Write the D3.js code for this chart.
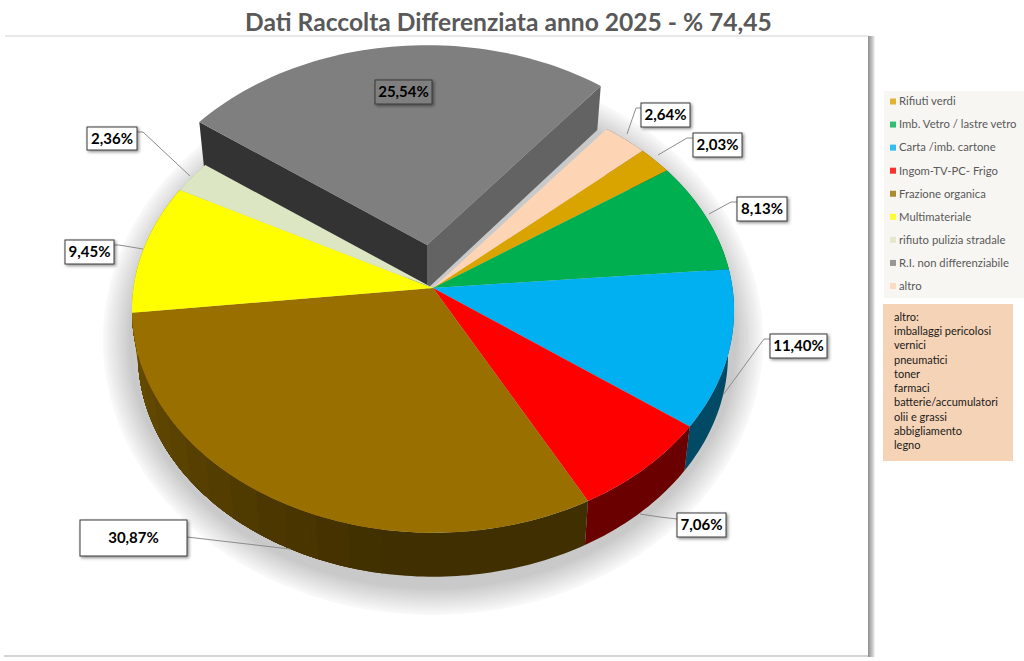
<!DOCTYPE html>
<html>
<head>
<meta charset="utf-8">
<title>Dati Raccolta Differenziata</title>
<script src="https://cdn.jsdelivr.net/npm/d3@7"></script>
<style>
  html, body { margin: 0; background: #fff; }
  text { font-family: Lato, "Open Sans", sans-serif; }
</style>
</head>
<body>
<svg id="chart" width="1024" height="661"></svg>
<script>
const categories = ['Rifiuti verdi', 'Imb. Vetro / lastre vetro', 'Carta /imb.  cartone', 'Ingom-TV-PC- Frigo',
  'Frazione organica', 'Multimateriale', 'rifiuto pulizia stradale', 'R.I. non differenziabile', 'altro'];
const values = [2.03, 8.13, 11.40, 7.06, 30.87, 9.45, 2.36, 25.54, 2.64];
const colors = ['#d9a400', '#00b050', '#00b0f0', '#ff0000', '#997000', '#ffff00', '#dce6c3', '#7f7f7f', '#fdd5b5'];
const altroItems = ['altro:', 'imballaggi pericolosi', 'vernici', 'pneumatici', 'toner', 'farmaci',
  'batterie/accumulatori', 'olii e grassi', 'abbigliamento', 'legno'];
const titleText = 'Dati Raccolta Differenziata anno 2025 - % 74,45';

const svg = d3.select('#chart');
const defs = svg.append('defs');

// frame shadow, title
defs.append('linearGradient').attr('id', 'frameEdge').selectAll('stop')
  .data([['0%', '#8f8f8f'], ['60%', '#c4c4c4'], ['100%', '#f6f6f6']]).enter().append('stop')
  .attr('offset', d => d[0]).attr('stop-color', d => d[1]);
svg.append('rect').attr('x', 868).attr('y', 36).attr('width', 7).attr('height', 621).attr('fill', 'url(#frameEdge)');
svg.append('rect').attr('x', 5).attr('y', 35).attr('width', 863).attr('height', 2).attr('fill', '#e8e8e8');
svg.append('rect').attr('x', 4).attr('y', 655).attr('width', 864).attr('height', 2).attr('fill', '#d4d4d4');
svg.append('text').attr('x', 508.5).attr('y', 31).attr('text-anchor', 'middle')
  .attr('font-size', 24.6).attr('font-weight', 700).attr('fill', '#595959').text(titleText);

// pie seen in perspective: the centre sits above the middle of the ellipse
const apex = { x: 433, y: 288 };
const R = { x: 299.5, y: 220 };
const persp = 0.101;
const depth = 44;
const bottomShrink = 0.98;
const grayOffset = { x: -6, y: -43 };
const startDeg = 48.3;

function project(a) {
  const u = Math.sin(a), v = -Math.cos(a), w = 1 - persp * v;
  return [R.x * u / w, R.y * v / w];
}
const toTop = a => { const p = project(a); return [apex.x + p[0], apex.y + p[1]]; };
const toBottom = a => { const p = project(a); return [apex.x + p[0] * bottomShrink, apex.y + p[1] + depth]; };

const pie = d3.pie().sort(null).value(d => d)
  .startAngle(startDeg * Math.PI / 180)
  .endAngle(startDeg * Math.PI / 180 + 2 * Math.PI);
const arcs = pie(values);
const line = d3.line();

function samples(a0, a1, n) {
  return d3.range(n + 1).map(i => a0 + (a1 - a0) * i / n);
}

// soft shadow under the pie, stepped rings from the outside in
const ring = samples(0, 2 * Math.PI, 120);
const ringCount = 12;
const ringColor = d3.scaleLinear().domain([0, 1]).range(['#f8f8f8', '#c9c9c9']);
const shadowG = svg.append('g').attr('transform', 'translate(433,340)');
d3.range(ringCount).forEach(i => {
  const t = i / (ringCount - 1);
  const rx = 330 - 26 * t, ry = 275 - 26 * t;
  shadowG.append('path')
    .attr('d', line(ring.map(a => [rx * Math.sin(a), ry * Math.cos(a)])) + 'Z')
    .attr('fill', ringColor(t));
});

// side wall shading changes with the direction it faces
const wallShade = d3.scaleLinear().domain([190, 275]).range([0.42, 0.74]).clamp(true);
function wallColor(base, a) {
  const deg = ((a * 180 / Math.PI) % 360 + 360) % 360;
  const c = d3.rgb(base);
  const k = wallShade(Math.round(deg / 6) * 6);
  return d3.rgb(c.r * k, c.g * k, c.b * k).formatHex();
}

const grayIndex = categories.indexOf('R.I. non differenziabile');
const grayArc = arcs[grayIndex];

// exploded slice goes behind everything else
const grayG = svg.append('g').attr('transform', `translate(${grayOffset.x},${grayOffset.y})`);
const apexTop = [apex.x, apex.y];
const apexBottom = [apex.x, apex.y + depth];
grayG.append('path')
  .attr('d', line([apexTop, toTop(grayArc.startAngle), toBottom(grayArc.startAngle), apexBottom]) + 'Z')
  .attr('fill', '#333333');
grayG.append('path')
  .attr('d', line([apexTop, toTop(grayArc.endAngle), toBottom(grayArc.endAngle), apexBottom]) + 'Z')
  .attr('fill', '#636363');
grayG.append('path')
  .attr('d', line([apexTop].concat(samples(grayArc.startAngle, grayArc.endAngle, 60).map(toTop))) + 'Z')
  .attr('fill', colors[grayIndex]);

// outer walls: each slice in one polygon per shade, painted back to front so the seams stay closed
const walls = svg.append('g');
arcs.forEach((d, i) => {
  if (i === grayIndex) return;
  const n = Math.max(2, Math.ceil((d.endAngle - d.startAngle) / (1 * Math.PI / 180)));
  const groups = d3.groups(d3.pairs(samples(d.startAngle, d.endAngle, n)), p => wallColor(colors[i], (p[0] + p[1]) / 2));
  const lastAngle = d.endAngle;
  groups.forEach(([col, segs]) => {
    const first = segs[0][0];
    const pts = samples(first, lastAngle, Math.max(2, Math.ceil((lastAngle - first) / (1 * Math.PI / 180))));
    walls.append('path')
      .attr('d', line(pts.map(toTop).concat(pts.slice().reverse().map(toBottom))) + 'Z')
      .attr('fill', col);
  });
});

// top faces
svg.append('g').selectAll('path')
  .data(arcs.filter((d, i) => i !== grayIndex))
  .enter().append('path')
  .attr('d', d => line([apexTop].concat(samples(d.startAngle, d.endAngle, 80).map(toTop))) + 'Z')
  .attr('fill', d => colors[d.index]);

// data labels and leaders, same order as the values
const labelLayout = [
  { box: [693, 133, 49, 24], leader: [[693, 138], [687, 138], [658, 155]] },
  { box: [737, 197, 50, 24], leader: [[737, 202], [731, 202], [709, 214]] },
  { box: [770, 334, 57, 24], leader: [[770, 339], [764, 339], [723, 395]] },
  { box: [677, 513, 49, 24], leader: [[677, 519], [660, 517], [640, 514]] },
  { box: [80, 520, 107, 36], leader: [[187, 537], [290, 549]] },
  { box: [65, 240, 49, 24], leader: [[114, 245], [119, 245], [143, 249]] },
  { box: [87, 127, 50, 23], leader: [[137, 132], [143, 132], [190, 176]] },
  { box: [375, 80, 57, 24], leader: null, fill: '#7f7f7f' },
  { box: [641, 103, 49, 24], leader: [[641, 108], [636, 108], [627, 134]] }
];
const pct = d3.format('.2f');
const pctLabel = v => pct(v).replace('.', ',') + '%';

defs.append('filter').attr('id', 'boxShadow').attr('x', '-20%').attr('y', '-30%').attr('width', '150%').attr('height', '170%')
  .append('feDropShadow').attr('dx', 1.5).attr('dy', 1.5).attr('stdDeviation', 1.5)
  .attr('flood-color', '#000').attr('flood-opacity', 0.45);

const labels = svg.append('g');
labelLayout.forEach(l => {
  if (l.leader) {
    labels.append('path').attr('d', line(l.leader)).attr('fill', 'none')
      .attr('stroke', '#8c8c8c').attr('stroke-width', 1);
  }
});
labelLayout.forEach((l, i) => {
  const [x, y, w, h] = l.box;
  labels.append('rect').attr('x', x).attr('y', y).attr('width', w).attr('height', h)
    .attr('fill', l.fill || '#fff').attr('stroke', '#3a3a3a').attr('stroke-width', 1)
    .attr('filter', 'url(#boxShadow)');
  labels.append('text').attr('x', x + w / 2).attr('y', y + h / 2 + 5.2).attr('text-anchor', 'middle')
    .attr('font-size', 15).attr('font-weight', 700).attr('fill', '#000').text(pctLabel(values[i]));
});

// legend
const legendY = d3.scalePoint().domain(categories).range([101.5, 286]);
svg.append('rect').attr('x', 884).attr('y', 91).attr('width', 140).attr('height', 207).attr('fill', '#f7f6f3');
const legend = svg.append('g').selectAll('g').data(categories).enter().append('g')
  .attr('transform', d => `translate(890,${legendY(d)})`);
legend.append('rect').attr('x', 0).attr('y', -3).attr('width', 6).attr('height', 6)
  .attr('fill', (d, i) => colors[i]).attr('opacity', 0.8);
legend.append('text').attr('x', 9).attr('y', 3.8).attr('font-size', 11.3).attr('fill', '#595959').text(d => d);

// note box
svg.append('rect').attr('x', 883).attr('y', 304).attr('width', 130).attr('height', 157).attr('fill', '#f5d3b6');
const noteY = d3.scalePoint().domain(altroItems).range([321, 449]);
svg.append('g').selectAll('text').data(altroItems).enter().append('text')
  .attr('x', 894).attr('y', d => noteY(d)).attr('font-size', 11).attr('fill', '#1a1a1a').text(d => d);
</script>
</body>
</html>
